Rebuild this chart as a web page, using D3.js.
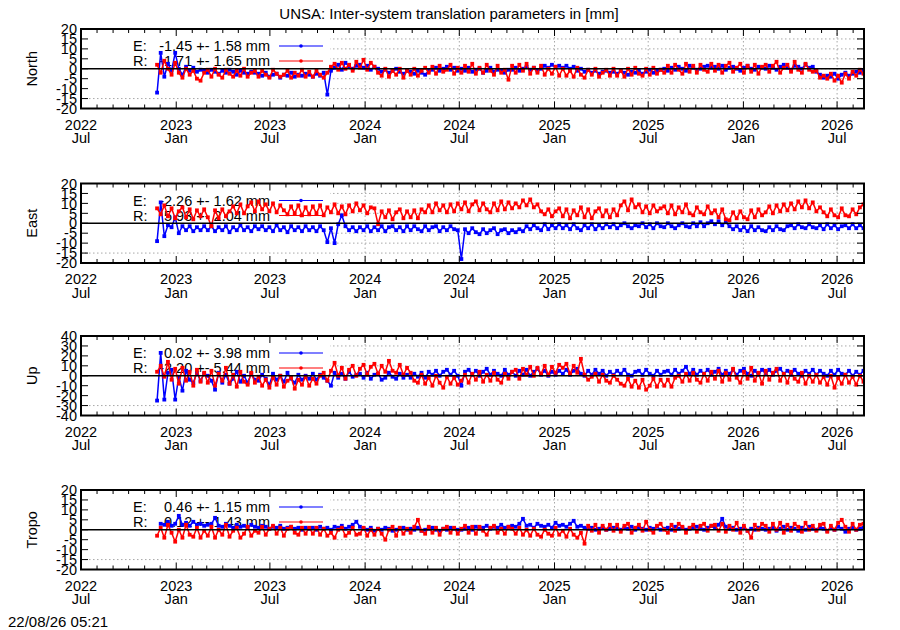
<!DOCTYPE html>
<html><head><meta charset="utf-8">
<script src="https://cdn.jsdelivr.net/npm/d3@7"></script>
<style>
body{margin:0;background:#fff}
text{font-family:"Liberation Sans",Arial,Helvetica,sans-serif;fill:#000}
</style>
</head><body>
<svg id="c" width="900" height="630"></svg>
<script>
// ---------------- data ----------------
const titleText = "UNSA: Inter-system translation parameters in [mm]";
const stampText = "22/08/26 05:21";
const axisStart = "2022-07-01", axisEnd = "2026-08-22";
const seriesStart = "2022-11-25", seriesStepDays = 7;
const panelNames = ["North", "East", "Up", "Tropo"];
const yLimits = [20, 20, 40, 20];
const yTickSteps = [5, 5, 10, 5];
const legendE = ["-1.45 +- 1.58 mm", "-2.26 +- 1.62 mm", "0.02 +- 3.98 mm", "0.46 +- 1.15 mm"];
const legendR = ["-1.71 +- 1.65 mm", "5.93 +- 2.04 mm", "-2.20 +- 5.44 mm", "0.12 +- 1.43 mm"];

const northE = [-12,8,-4,2.5,-1,8,0,-3,1,-1,0.5,-1.5,-0.5,-1,
 -2,-0.5,-1.5,-2.5,-1,-2,-0.5,-1.5,-3,-1,-2,-2.5,-1.5,-2,
 -2.5,-3.5,-2,-4,-3,-2.5,-4.5,-3,-3.5,-2,-4,-3,-3.5,-2.5,
 -3,-4,-2.5,-3.5,-2,-13,-1,0.5,2,-0.5,3,1,0,1.5,
 2,0.5,1.5,-0.5,1,0,-1.5,-0.5,-2,-1,0,-1.5,-2.5,-1,
 -1.5,-2.5,-1,-2,-3,-1,-0.5,0.5,-1,0,1,-0.5,0.5,-1,
 0,-1,0.5,-1.5,-0.5,0,-2,-1,0.5,-1.5,-0.5,-1,-2,-0.5,
 -0.5,0.5,-1,0,1,-0.5,0.5,-1,0,1.5,0.5,2,1,1.5,
 0.5,1.5,0,1,-1,0,-1.5,-0.5,-2,-1,-2.5,-1.5,-1,-2,
 -1.5,-2.5,-1,-2,-3,-1.5,-2,-1,-2.5,-1.5,-0.5,-2,-1,-0.5,
 0,-1,0.5,-0.5,1,0,-1,1.5,0.5,-0.5,0,1,1.5,0.5,
 1,0,1.5,-0.5,0.5,1,0,-1,0.5,1.5,0,-0.5,1,0.5,
 0,1.5,0.5,-0.5,1,2,0.5,-0.5,1.5,1,0,2,0.5,1,
 -1.5,-3,-4.5,-3.5,-4,-2.5,-5,-3,-2,-3.5,-2.5,-1.5,-2,-1];
const northR = [2,-2,4,0,-3,3,-2,-4.5,0,-3,-1,-5,-6,-2,
 -0.5,-4,0,-3,-4.5,-0.5,-2.5,-4,-1,-3.5,0,-4,-2,-1,
 -4,-1,-3,-4.5,-0.5,-2.5,-4,-3,-1,-4.5,-2,-3.5,-0.5,-4,
 -1.5,-4,-1,-3,-4.5,-2,1,2.5,-0.5,3,0,2,-1,3.5,
 0.5,4.5,-0.5,3,1,-2,-3.5,0,-4,-1,-3,0,-4.5,-1,
 -3,0,-3.5,-1,0.5,-2,1,-2.5,1.5,-1.5,-0.5,2,-2.5,0.5,
 -2,1.5,-1.5,2.5,-2.5,0.5,-2,2,-1,-3,1.5,-2,-0.5,-5.5,
 1.5,-2,2,-1,2.5,-2.5,0.5,-2,1.5,-3,0,-2.5,1,-3.5,
 0,-3.5,-1,-4,0.5,-3,-4.5,-0.5,-3,0,-4,-2,-0.5,-3.5,
 0,-3.5,-1,-4,0,-3,0.5,-2.5,-3.5,0,-3,0.5,-2.5,-0.5,
 -2,1.5,-2,2,-0.5,-2.5,2.5,-1.5,1.5,-2,2,-0.5,-1.5,2.5,
 -1,2,-2,1.5,3,-1.5,0.5,2.5,-2,1.5,-1.5,2,-2.5,1,
 2,-1.5,1.5,3.5,-2,0.5,2,-1.5,3.5,-0.5,-2,2.5,-0.5,-1.5,
 -1,-4.5,-3.5,-5,-2.5,-6,-3.5,-7,-2.5,-5,-1.5,-3.5,-0.5,-2.5];
const eastE = [-9,10.5,-6.5,-1,-2,3,-5,-1.5,-3.5,-1.5,-4,-2,-3.5,-1.5,
 -3.5,-1.5,-4,-2,-3.5,-1.5,-4.5,-2,-3.5,-1,-3.5,-2,-4,-1.5,
 -3,-1.5,-3.5,-2,-4,-1,-3.5,-2,-4.5,-1.5,-3.5,-2,-4,-1.5,
 -3.5,-2,-4,-1.5,-3.5,-9.5,-2.5,-10,-0.5,4,-1.5,-3.5,-2,-4,
 -2,-3.5,-1.5,-4,-2,-3.5,-1.5,-4,-2,-1.5,-3.5,-2,-4,-1.5,
 -3.5,-1.5,-3,-4,-1.5,-3.5,-2,-1.5,-4,-2,-3.5,-1.5,-3,-3.5,
 -18,-3,-5,-2.5,-4.5,-5.5,-3,-5,-3.5,-2.5,-5.5,-3.5,-3,-5,
 -3.5,-4.5,-3,-4,-1.5,-3,-1,-2.5,-3.5,-0.5,-3,-1,-2.5,-0.5,
 -2.5,-1,-3,-0.5,-2.5,-3.5,-1,-2.5,-0.5,-3,-1,-2.5,-0.5,-2,
 -0.5,-2.5,-1,0,-1.5,-2.5,-1,-1.5,0,-2,-0.5,-2.5,0,-1.5,
 -2,0,-1.5,-2.5,-1,0,-1.5,-2,0,-1.5,0.5,-1.5,0,1,
 -0.5,1,-1,0.5,-1.5,-3,-1.5,-3.5,-2,-4,-1.5,-3.5,-2,-3.5,
 -4,-2,-3.5,-1.5,-3,-3.5,-1.5,-1,-2.5,-0.5,-2,-2.5,-0.5,-2,
 -2.5,-1,-3,-0.5,-2.5,-1,-3,-1.5,-1,-2.5,-0.5,-2.5,-1,-2.5];
const eastR = [7.5,4.5,9,3.5,7.5,2.5,6,8,3,7,2,6.5,3.5,7,
 3,-1.5,6.5,2.5,7,3.5,6,8.5,5,9.5,5,8.5,10.5,6,
 11,7,9.5,6,10,5.5,9,6.5,4.5,8.5,5,9,4,8,
 4.5,8.5,5,9,4,8,5.5,9.5,5,8.5,4.5,9,6,10,
 6.5,9,5,8,7.5,-0.5,6,3,6.5,2,5.5,7,2.5,6,
 3,6.5,2.5,7,5.5,9,5.5,10,6.5,9,5.5,9.5,6,10,
 7,10.5,6,9.5,11,6.5,10,7,5.5,10,6.5,11,7,10.5,
 7.5,10,8,11.5,9,12,8,9.5,6,4.5,7,3.5,6,7.5,
 3.5,7,2.5,6.5,4,8,3,7,2.5,6,7.5,3.5,6.5,3,
 7,4,9,11,6.5,12,8,9.5,5.5,8.5,5,9,6,7.5,
 8.5,5,9,4.5,8,5.5,9.5,5,4,8,5.5,4.5,8.5,5,
 6.5,3,7,2,1.5,5.5,2.5,6,3,2,6.5,3,7,4,
 5.5,8.5,5,9,6,9.5,6.5,10,7,11,8,11.5,7.5,10.5,
 6,8,5.5,3.5,7,4,3,7.5,4,3.5,7,4.5,8,9.5];
const upE = [-25,23,-24,3,6,-24,-1,-15,5,-4,-7,3,-5,2,
 0,-5,-14,3,-7,1,-8,-3,4,-6,0,-7,2,-4,
 -5,1,-3,-9,2,-4,0,-6,3,-3,-7,1,-4,0,
 -3,2,-4,1,-2,-5,-10,3,-2,2,-3,4,-1,1,
 2,-2,3,-3,1,2,-4,-2,3,-1,-3,2,-2,1,
 -2,2,-1,3,-2,4,1,5,0,4,6,1,5,0,
 -10,4,6,1,5,0,4,7,1,5,2,0,6,1,
 4,0,5,1,6,0,4,7,1,5,0,4,1,5,
 2,6,1,5,7,2,0,5,1,6,2,5,0,4,
 1,5,2,6,1,0,4,5,1,6,2,0,5,1,
 4,5,1,6,2,5,9,2,6,1,5,2,6,1,
 4,7,1,5,2,6,1,5,7,2,0,5,1,6,
 2,6,1,5,7,2,5,1,6,2,0,5,2,6,
 1,5,2,0,5,1,6,2,1,5,0,4,1,5];
const upR = [4,10,-1,14,-4,7,-8,8,-5,4,-10,6,-6,3,
 -7,5,-10,2,-5,8,-8,1,-11,4,-6,-9,3,-7,
 -1,-10,-4,-12,-2,-9,0,-11,-5,-2,-13,-4,-9,-1,
 -10,-3,-8,0,3,-5,5,13,0,8,-3,6,10,0,
 7,11,1,9,12,2,10,4,15,5,3,11,1,8,
 3,-5,-7,1,-8,-2,-10,0,-7,-12,-1,-8,-2,-9,
 -5,1,-7,2,-4,4,-6,1,-5,3,-4,-7,2,-3,
 4,6,-3,7,1,9,0,8,2,10,1,9,3,11,
 8,12,2,10,3,17,1,-4,-1,2,-6,1,-5,-7,
 0,-4,-8,-10,-3,-11,-5,-12,-4,-14,-10,-3,-11,-4,
 -10,-4,-11,-2,0,-6,2,-5,3,-4,-7,2,-5,4,
 -3,5,-6,3,-4,7,-2,-7,4,-3,8,-5,3,-8,
 5,-4,3,7,-5,2,-7,4,-3,-6,3,-8,0,-6,
 1,-7,-1,-9,0,-12,-2,-8,1,-7,-1,-9,0,-6];
const tropoE = [null,3,2.5,4,2,3,7,2.5,3.5,2,4,2.5,3,2,
 2.5,3,6,2,1.5,3,2,1,2.5,1.5,2,1,2.5,1.5,
 1,2,1.5,0.5,1.5,1,2,0.5,1,1.5,0.5,1,0,1,
 0.5,1,0,1.5,0.5,1,0,1.5,1,2,0.5,1.5,2.5,4,
 1.5,0.5,0,1,-0.5,0.5,0,1,0.5,-0.5,0,0.5,1,0,
 0.5,0,1,-0.5,0,0.5,1,0,-0.5,0.5,0,1,0.5,0,
 0,0.5,1,0,1.5,0.5,1,2,0.5,1.5,1,2.5,1,1.5,
 2,1.5,3,5.5,2,2.5,1,3,2,1.5,2.5,1,3.5,2,
 2.5,1.5,3,4.5,1.5,2,1,0.5,1,0,0.5,1,0,0.5,
 1,0.5,0,1,0.5,1.5,0,1,0.5,0,1,0.5,1.5,0,
 0.5,1,0,1.5,0.5,1,0,0.5,1,1.5,0.5,0,1,2,
 1,2.5,5.5,1.5,0.5,1,0,0.5,1,-0.5,0.5,0,1,0.5,
 0,0.5,1,-0.5,0.5,1.5,0,1,0.5,-0.5,1,0,1.5,0.5,
 0,1,0.5,-0.5,1,0,1.5,0.5,-1,0.5,1,0,0.5,1];
const tropoR = [-3,1,-4,2.5,-1.5,-6,0,-4,2.5,-2.5,-3.5,1,-4,-0.5,
 -3,1.5,-4,0,-2.5,2.5,-3.5,-0.5,1,-4,-2,1.5,-3,-0.5,
 -1.5,1.5,-2.5,0.5,2,-2,1,-3,0.5,1.5,-1.5,-2.5,1,-2,
 1,-2,1,-2.5,0.5,-3,-1.5,-4,0,1,-3,-1.5,1,-2.5,
 -2,1,-3,0,-2.5,0.5,-2,-5,0,1.5,-3,1,-2,0.5,
 -1.5,1.5,5,-0.5,-2,1.5,-1.5,1,-2.5,0.5,1.5,-1.5,1,-2,
 0.5,2,-1.5,1.5,-2,1.5,-0.5,-2.5,1,2,-1.5,0.5,-2,1.5,
 0.5,-2,1,-2.5,0,-3,0.5,-2.5,-3.5,0,-2,-3,1,-2.5,
 -0.5,-3.5,0.5,-2.5,-4,-1.5,-7,2,-0.5,2.5,-1.5,2,0,2.5,
 -0.5,2.5,-1,2,3,-1.5,1,2.5,-0.5,4,0,-1.5,2,3,
 0,-1.5,2.5,-0.5,3,1.5,-1.5,1,2.5,-1,2,3,-0.5,2,
 2.5,-0.5,3,-1,2,0,3.5,-1.5,2,-0.5,-4,2.5,0,3,
 2,-1,3,0,3.5,-1.5,2.5,-0.5,3,1.5,-1,3.5,0,2,
 -0.5,2.5,3,-1,2,0,3.5,5,1.5,-1,3,0,2.5,3];

const seriesE = [northE, eastE, upE, tropoE];
const seriesR = [northR, eastR, upR, tropoR];

// ---------------- drawing ----------------
const svg = d3.select("#c");
svg.append("rect").attr("width", 900).attr("height", 630).attr("fill", "#fff");

const X0 = 81, X1 = 864, H = 79.5, keyRight = 330, keyH = 64;
const tops = [29, 183.5, 336, 490];
const parse = d3.utcParse("%Y-%m-%d");
const x = d3.scaleUtc().domain([parse(axisStart), parse(axisEnd)]).range([X0, X1]);
const t0 = parse(seriesStart);
const dateAt = i => d3.utcDay.offset(t0, i * seriesStepDays);
const majorTicks = d3.utcMonth.every(6).range(parse(axisStart), d3.utcDay.offset(parse(axisEnd), 1));
const minorTicks = d3.utcMonth.range(parse(axisStart), d3.utcDay.offset(parse(axisEnd), 1));
const fYear = d3.utcFormat("%Y"), fMon = d3.utcFormat("%b");
const BLUE = "#0000ff", RED = "#ff0000";
const FS = "14.5px";

svg.append("text").attr("x", 449).attr("y", 19).attr("text-anchor", "middle")
  .style("font-size", "15px").text(titleText);
svg.append("text").attr("x", 8).attr("y", 627).style("font-size", "15px").text(stampText);

panelNames.forEach((name, p) => {
  const top = tops[p], bot = top + H;
  const lim = yLimits[p], st = yTickSteps[p];
  const y = d3.scaleLinear().domain([-lim, lim]).range([bot, top]);
  const yt = d3.range(-lim, lim + 0.001, st);
  const g = svg.append("g");

  // grid
  yt.filter(v => v > -lim && v < lim).forEach(v => {
    g.append("line").attr("x1", X0).attr("x2", X1).attr("y1", y(v)).attr("y2", y(v))
      .attr("stroke", "#a8a8a8").attr("stroke-width", 1).attr("stroke-dasharray", "1.5,2.5");
  });
  majorTicks.filter(d => x(d) > keyRight && x(d) < X1 - 1).forEach(d => {
    g.append("line").attr("x1", x(d)).attr("x2", x(d)).attr("y1", top).attr("y2", bot)
      .attr("stroke", "#a8a8a8").attr("stroke-width", 1).attr("stroke-dasharray", "1.5,2.5");
  });

  // key box (opaque)
  g.append("rect").attr("x", X0 + 1).attr("y", top + 1).attr("width", keyRight - X0 - 1).attr("height", keyH)
    .attr("fill", "#fff");

  // key entries
  [[legendE[p], "E:", BLUE, 17], [legendR[p], "R:", RED, 32]].forEach(([val, lab, col, dy]) => {
    g.append("text").attr("x", 133).attr("y", top + dy + 5).style("font-size", FS).text(lab);
    g.append("text").attr("x", 270).attr("y", top + dy + 5).attr("text-anchor", "end")
      .style("font-size", FS).text(val);
    g.append("line").attr("x1", 279).attr("x2", 323).attr("y1", top + dy).attr("y2", top + dy)
      .attr("stroke", col).attr("stroke-width", 1.2);
    g.append("circle").attr("cx", 301).attr("cy", top + dy).attr("r", 1.8).attr("fill", col);
  });

  // data
  const clipId = "clip" + p;
  svg.append("clipPath").attr("id", clipId).append("rect")
    .attr("x", X0).attr("y", top).attr("width", X1 - X0).attr("height", H);
  const dg = g.append("g").attr("clip-path", `url(#${clipId})`);
  [[seriesE[p], BLUE], [seriesR[p], RED]].forEach(([vals, col]) => {
    const pts = vals.map((v, i) => ({d: dateAt(i), v})).filter(o => o.v !== null);
    dg.append("path").datum(pts)
      .attr("d", d3.line().x(o => x(o.d)).y(o => y(o.v)))
      .attr("fill", "none").attr("stroke", col).attr("stroke-width", 1.5).attr("stroke-linejoin", "round");
    dg.selectAll(null).data(pts).enter().append("rect")
      .attr("x", o => x(o.d) - 1.9).attr("y", o => y(o.v) - 1.9)
      .attr("width", 3.8).attr("height", 3.8).attr("fill", col);
  });

  // zero axis
  g.append("line").attr("x1", X0).attr("x2", X1).attr("y1", y(0)).attr("y2", y(0))
    .attr("stroke", "#000").attr("stroke-width", 1.3);

  // ticks
  yt.forEach(v => {
    g.append("line").attr("x1", X0).attr("x2", X0 + 7).attr("y1", y(v)).attr("y2", y(v)).attr("stroke", "#000");
    g.append("line").attr("x1", X1).attr("x2", X1 - 7).attr("y1", y(v)).attr("y2", y(v)).attr("stroke", "#000");
    g.append("text").attr("x", 77).attr("y", y(v)).attr("dy", "0.36em").attr("text-anchor", "end")
      .style("font-size", FS).text(v);
  });
  minorTicks.forEach(d => {
    const len = majorTicks.some(m => +m === +d) ? 7 : 4;
    g.append("line").attr("x1", x(d)).attr("x2", x(d)).attr("y1", bot).attr("y2", bot - len).attr("stroke", "#000");
    g.append("line").attr("x1", x(d)).attr("x2", x(d)).attr("y1", top).attr("y2", top + len).attr("stroke", "#000");
  });
  majorTicks.forEach(d => {
    g.append("text").attr("x", x(d)).attr("y", bot + 21).attr("text-anchor", "middle")
      .style("font-size", FS).text(fYear(d));
    g.append("text").attr("x", x(d)).attr("y", bot + 34.5).attr("text-anchor", "middle")
      .style("font-size", FS).text(fMon(d));
  });

  // frame
  g.append("rect").attr("x", X0).attr("y", top).attr("width", X1 - X0).attr("height", H)
    .attr("fill", "none").attr("stroke", "#000").attr("stroke-width", 2);

  // y label
  g.append("text").attr("transform", `translate(37,${(top + bot) / 2}) rotate(-90)`)
    .attr("text-anchor", "middle").style("font-size", FS).text(name);
});
</script>
</body></html>
